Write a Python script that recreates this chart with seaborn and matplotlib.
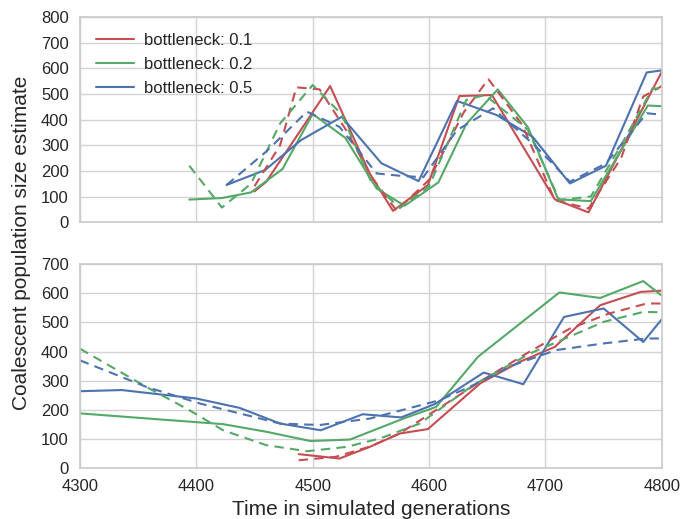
import matplotlib
matplotlib.use('Agg')
import matplotlib.pyplot as plt
import seaborn as sns

labels = ['bottleneck: 0.1', 'bottleneck: 0.2', 'bottleneck: 0.5']

# top panel, solid lines (time, estimate)
top_red_t = [4450, 4460, 4515, 4549, 4569, 4599, 4626, 4654, 4708, 4737, 4800]
top_red_y = [120, 157, 531, 190, 44, 145, 492, 496, 89, 38, 587]
top_green_t = [4394, 4422, 4447, 4474, 4500, 4528, 4555, 4579, 4608, 4632, 4659, 4685, 4711, 4739, 4788, 4812]
top_green_y = [88, 94, 116, 207, 422, 329, 131, 64, 155, 383, 518, 370, 89, 82, 455, 450]
top_blue_t = [4426, 4459, 4490, 4525, 4559, 4591, 4624, 4658, 4689, 4721, 4752, 4787, 4820]
top_blue_y = [145, 203, 320, 411, 230, 160, 473, 418, 333, 151, 220, 584, 605]

# top panel, dashed lines
top_red_dt = [4450, 4472, 4486, 4506, 4530, 4550, 4572, 4600, 4630, 4651, 4680, 4708, 4737, 4765, 4784, 4800]
top_red_dy = [140, 300, 526, 518, 350, 180, 45, 165, 430, 558, 380, 86, 53, 250, 490, 531]
top_green_dt = [4394, 4422, 4447, 4472, 4500, 4525, 4550, 4575, 4600, 4632, 4648, 4685, 4712, 4739, 4765, 4792, 4800]
top_green_dy = [220, 57, 150, 385, 535, 420, 160, 55, 140, 477, 496, 360, 86, 100, 300, 522, 520]
top_blue_dt = [4426, 4460, 4495, 4523, 4555, 4575, 4595, 4624, 4655, 4692, 4721, 4752, 4787, 4800]
top_blue_dy = [145, 275, 431, 372, 190, 181, 175, 359, 444, 294, 158, 229, 425, 419]

# bottom panel, solid lines
bot_red_t = [4488, 4523, 4549, 4575, 4599, 4644, 4678, 4708, 4747, 4782, 4800]
bot_red_y = [48, 33, 73, 119, 134, 291, 365, 416, 559, 605, 609]
bot_green_t = [4300, 4346, 4423, 4460, 4498, 4532, 4578, 4606, 4642, 4712, 4747, 4784, 4810]
bot_green_y = [188, 174, 151, 125, 93, 98, 170, 210, 382, 603, 584, 642, 560]
bot_blue_t = [4300, 4336, 4400, 4437, 4472, 4507, 4543, 4576, 4605, 4647, 4681, 4716, 4750, 4784, 4810]
bot_blue_y = [264, 268, 239, 207, 153, 130, 185, 174, 220, 328, 288, 519, 548, 433, 560]

# bottom panel, dashed lines
bot_red_dt = [4488, 4520, 4550, 4575, 4606, 4645, 4684, 4721, 4755, 4787, 4800]
bot_red_dy = [27, 39, 75, 120, 199, 300, 394, 479, 531, 565, 565]
bot_green_dt = [4300, 4357, 4394, 4423, 4460, 4495, 4529, 4558, 4592, 4638, 4687, 4720, 4750, 4784, 4800]
bot_green_dy = [410, 279, 199, 130, 79, 58, 73, 102, 153, 285, 394, 450, 502, 536, 535]
bot_blue_dt = [4300, 4357, 4403, 4472, 4506, 4549, 4609, 4635, 4672, 4709, 4750, 4787, 4800]
bot_blue_dy = [370, 279, 222, 153, 148, 170, 233, 279, 353, 405, 428, 445, 445]

sns.set_theme(style='whitegrid')
plt.rcParams['font.family'] = ['Liberation Sans', 'DejaVu Sans']
plt.rcParams['axes.edgecolor'] = '#cccccc'
plt.rcParams['grid.color'] = '#d3d3d3'

red, green, blue = '#C44E52', '#55A868', '#4C72B0'
colors = [red, green, blue]

fig = plt.figure(figsize=(6.83, 5.19), dpi=100)
ax1 = fig.add_axes([0.117, 0.572, 0.852, 0.395])
ax2 = fig.add_axes([0.117, 0.098, 0.852, 0.393])

top_solid = [(top_red_t, top_red_y), (top_green_t, top_green_y), (top_blue_t, top_blue_y)]
top_dash = [(top_red_dt, top_red_dy), (top_green_dt, top_green_dy), (top_blue_dt, top_blue_dy)]
bot_solid = [(bot_red_t, bot_red_y), (bot_green_t, bot_green_y), (bot_blue_t, bot_blue_y)]
bot_dash = [(bot_red_dt, bot_red_dy), (bot_green_dt, bot_green_dy), (bot_blue_dt, bot_blue_dy)]

for (t, y), c, lab in zip(top_solid, colors, labels):
    sns.lineplot(x=t, y=y, ax=ax1, color=c, lw=1.5, label=lab, sort=False)
for (t, y), c in zip(top_dash, colors):
    sns.lineplot(x=t, y=y, ax=ax1, color=c, lw=1.5, dashes=(4.5, 3), sort=False)
for (t, y), c in zip(bot_solid, colors):
    sns.lineplot(x=t, y=y, ax=ax2, color=c, lw=1.5, sort=False)
for (t, y), c in zip(bot_dash, colors):
    sns.lineplot(x=t, y=y, ax=ax2, color=c, lw=1.5, dashes=(4.5, 3), sort=False)

ax1.set_xlim(4300, 4800)
ax1.set_ylim(0, 800)
ax1.set_xticks([4300, 4400, 4500, 4600, 4700, 4800])
ax1.set_xticklabels([])
ax1.set_yticks(range(0, 801, 100))
ax2.set_xlim(4300, 4800)
ax2.set_ylim(0, 700)
ax2.set_xticks([4300, 4400, 4500, 4600, 4700, 4800])
ax2.set_yticks(range(0, 701, 100))

for ax in (ax1, ax2):
    ax.tick_params(labelsize=12, colors='#262626', pad=2)
    ax.set_xlabel('')
    ax.set_ylabel('')

ax1.legend(loc='upper left', frameon=False, fontsize=12, handlelength=2.3,
           handletextpad=0.6, borderaxespad=0.55, labelspacing=0.55)
ax2.set_xlabel('Time in simulated generations', fontsize=15, color='#262626')
fig.text(0.032, 0.532, 'Coalescent population size estimate', rotation=90,
         ha='center', va='center', fontsize=15, color='#262626')

plt.savefig('out.png', dpi=100)
